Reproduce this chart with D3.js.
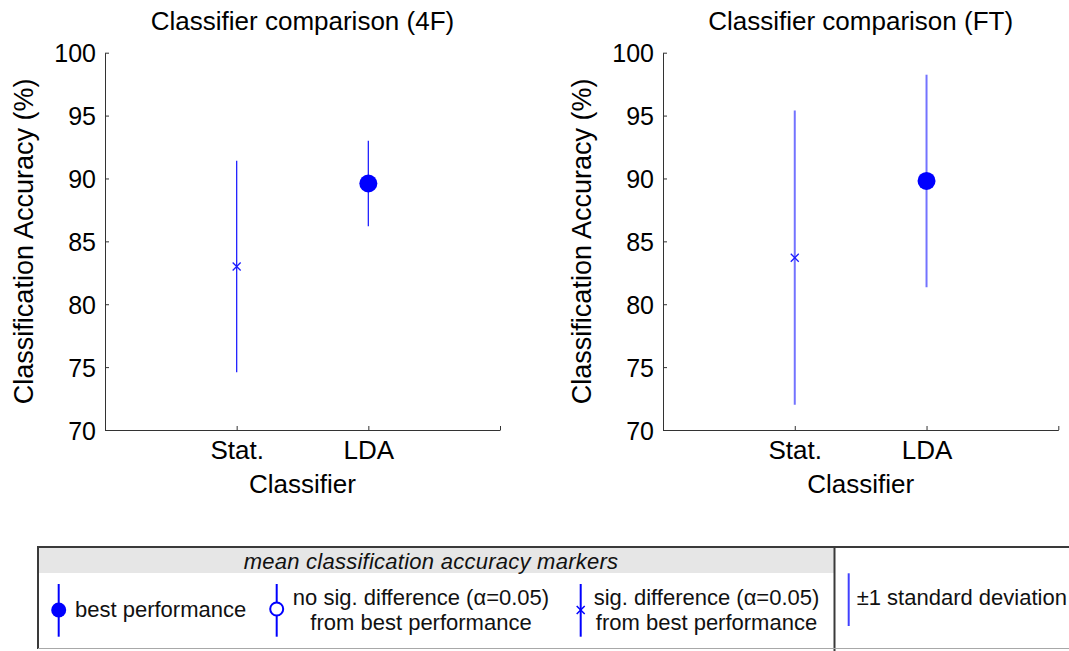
<!DOCTYPE html>
<html>
<head>
<meta charset="utf-8">
<script src="https://cdn.jsdelivr.net/npm/d3@7"></script>
<style>
  body { margin: 0; background: #fff; }
  svg { display: block; font-family: "Liberation Sans", Arial, sans-serif; }
</style>
</head>
<body>
<svg id="chart" width="1069" height="651"></svg>
<script>
// data
const classifiers = ['Stat.', 'LDA'];
const markerTypes = ['sig', 'best'];
const panelTitles = ['Classifier comparison (4F)', 'Classifier comparison (FT)'];
const mean4F = [83.0, 89.6];
const sd4F = [8.4, 3.4];
const meanFT = [83.7, 89.8];
const sdFT = [11.7, 8.45];
const yTicks = [70, 75, 80, 85, 90, 95, 100];
const xTicks = [0, 1, 2, 3];

const legendTitle = 'mean classification accuracy markers';
const legendKinds = ['best', 'nosig', 'sig'];
const legendTexts = [
	['best performance'],
	['no sig. difference (\u03b1=0.05)', 'from best performance'],
	['sig. difference (\u03b1=0.05)', 'from best performance'],
];
const sdText = '\u00b11 standard deviation';

const svg = d3.select('#chart');
const plotTop = 52.7;
const plotBottom = 430;

const panels = [
	{ left: 105, right: 500, means: mean4F, sds: sd4F, title: panelTitles[0], line: '#2222ff', lw: 1.3 },
	{ left: 663, right: 1058.3, means: meanFT, sds: sdFT, title: panelTitles[1], line: '#7373ff', lw: 2 },
];

const y = d3.scaleLinear().domain([70, 100]).range([plotBottom, plotTop]);

const drawPanel = (p) => {
	const x = d3.scaleLinear().domain([0, 3]).range([p.left, p.right]);
	const g = svg.append('g');

	const yAxis = d3.axisLeft(y).tickValues(yTicks).tickSizeInner(-4).tickSizeOuter(0).tickPadding(9);
	g.append('g')
		.attr('transform', `translate(${p.left},0)`)
		.call(yAxis)
		.call((a) => a.selectAll('text').attr('font-size', 25).attr('fill', '#000').attr('dy', '0.36em'));

	const xAxis = d3
		.axisBottom(x)
		.tickValues(xTicks)
		.tickSizeInner(-4)
		.tickSizeOuter(0)
		.tickPadding(11)
		.tickFormat((d) => classifiers[d - 1] || '');
	g.append('g')
		.attr('transform', `translate(0,${plotBottom})`)
		.call(xAxis)
		.call((a) => a.selectAll('text').attr('font-size', 26).attr('fill', '#000'));

	g.selectAll('.domain, .tick line').attr('stroke', '#333').attr('stroke-width', 1);
	g.selectAll('g[font-family]').attr('font-family', null);

	// title and labels
	g.append('text')
		.attr('x', (p.left + p.right) / 2)
		.attr('y', 30)
		.attr('text-anchor', 'middle')
		.attr('font-size', 26)
		.text(p.title);
	g.append('text')
		.attr('x', (p.left + p.right) / 2)
		.attr('y', 493)
		.attr('text-anchor', 'middle')
		.attr('font-size', 26)
		.text('Classifier');
	g.append('text')
		.attr('transform', `translate(${p.left - 72},${(plotTop + plotBottom) / 2}) rotate(-90)`)
		.attr('text-anchor', 'middle')
		.attr('font-size', 27)
		.text('Classification Accuracy (%)');

	// error bars
	const rows = classifiers.map((c, i) => ({ i: i + 1, m: p.means[i], s: p.sds[i], kind: markerTypes[i] }));
	g.selectAll('line.err')
		.data(rows)
		.enter()
		.append('line')
		.attr('class', 'err')
		.attr('x1', (d) => x(d.i))
		.attr('x2', (d) => x(d.i))
		.attr('y1', (d) => y(d.m + d.s))
		.attr('y2', (d) => y(d.m - d.s))
		.attr('stroke', p.line)
		.attr('stroke-width', p.lw);

	g.selectAll('circle.best')
		.data(rows.filter((d) => d.kind === 'best'))
		.enter()
		.append('circle')
		.attr('cx', (d) => x(d.i))
		.attr('cy', (d) => y(d.m))
		.attr('r', 9)
		.attr('fill', '#0000ff');

	g.selectAll('path.sig')
		.data(rows.filter((d) => d.kind === 'sig'))
		.enter()
		.append('path')
		.attr('d', (d) => {
			const cx = x(d.i);
			const cy = y(d.m);
			return `M${cx - 4},${cy - 4}L${cx + 4},${cy + 4}M${cx - 4},${cy + 4}L${cx + 4},${cy - 4}`;
		})
		.attr('stroke', '#1a1aff')
		.attr('stroke-width', 1.3)
		.attr('fill', 'none');
};

panels.forEach(drawPanel);

// legend
const lg = svg.append('g').attr('font-size', 22).attr('fill', '#111');
lg.append('rect').attr('x', 38).attr('y', 547).attr('width', 797).attr('height', 26).attr('fill', '#e6e6e6');
lg.append('line').attr('x1', 37).attr('x2', 1069).attr('y1', 547).attr('y2', 547).attr('stroke', '#3a3a3a').attr('stroke-width', 2);
lg.append('line').attr('x1', 38).attr('x2', 38).attr('y1', 546).attr('y2', 649).attr('stroke', '#3a3a3a').attr('stroke-width', 2);
lg.append('line').attr('x1', 834.5).attr('x2', 834.5).attr('y1', 546).attr('y2', 651).attr('stroke', '#3a3a3a').attr('stroke-width', 2);
lg.append('line').attr('x1', 38).attr('x2', 1069).attr('y1', 648.5).attr('y2', 648.5).attr('stroke', '#a8a8a8').attr('stroke-width', 1);

lg.append('text')
	.attr('x', 431)
	.attr('y', 569)
	.attr('text-anchor', 'middle')
	.attr('font-style', 'italic')
	.attr('letter-spacing', 0.25)
	.text(legendTitle);

const itemX = [58.7, 276.7, 580.7];
const textX = [75, 421, 706.5];
const markY = 610;
legendKinds.forEach((kind, i) => {
	const cx = itemX[i];
	lg.append('line')
		.attr('x1', cx).attr('x2', cx)
		.attr('y1', 584).attr('y2', 636.7)
		.attr('stroke', '#0000ff').attr('stroke-width', 2);
	if (kind === 'best') {
		lg.append('circle').attr('cx', cx).attr('cy', markY).attr('r', 7.5).attr('fill', '#0000ff');
	} else if (kind === 'nosig') {
		lg.append('circle').attr('cx', cx).attr('cy', markY - 1).attr('r', 6.5)
			.attr('fill', '#fff').attr('stroke', '#0000ff').attr('stroke-width', 2);
	} else {
		lg.append('path')
			.attr('d', `M${cx - 4},${markY - 4}L${cx + 4},${markY + 4}M${cx - 4},${markY + 4}L${cx + 4},${markY - 4}`)
			.attr('stroke', '#0000ff').attr('stroke-width', 1.5).attr('fill', 'none');
	}
	const lines = legendTexts[i];
	if (lines.length === 1) {
		lg.append('text').attr('x', textX[i]).attr('y', 617).text(lines[0]);
	} else {
		lines.forEach((t, j) => {
			lg.append('text')
				.attr('x', textX[i])
				.attr('y', 605 + j * 25)
				.attr('text-anchor', 'middle')
				.text(t);
		});
	}
});

lg.append('line')
	.attr('x1', 848.7).attr('x2', 848.7)
	.attr('y1', 573.3).attr('y2', 626)
	.attr('stroke', '#4040ff').attr('stroke-width', 2);
lg.append('text').attr('x', 856.7).attr('y', 605).text(sdText);
</script>
</body>
</html>
